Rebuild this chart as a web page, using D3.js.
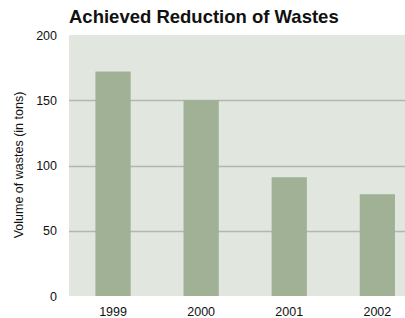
<!DOCTYPE html>
<html>
<head>
<meta charset="utf-8">
<script src="https://cdn.jsdelivr.net/npm/d3@7"></script>
<style>
  body { margin: 0; background: #fff; }
  text { font-family: "Liberation Sans", Arial, sans-serif; }
</style>
</head>
<body>
<div id="chart"></div>
<script>
var years = ["1999", "2000", "2001", "2002"];
var wastes = [172, 150, 91, 78];
var yTicks = [0, 50, 100, 150, 200];

var width = 405, height = 318;
var margin = { top: 35, left: 69, bottom: 22 };
var plotBottom = height - margin.bottom;

var svg = d3.select("#chart").append("svg")
  .attr("width", width)
  .attr("height", height);

var x = d3.scaleBand()
  .domain(years)
  .range([margin.left, margin.left + 4 * 88.1])
  .paddingInner(0.6)
  .paddingOuter(0.3);

var y = d3.scaleLinear()
  .domain([0, 200])
  .range([plotBottom, margin.top]);

// background
svg.append("rect")
  .attr("x", margin.left)
  .attr("y", margin.top)
  .attr("width", width - margin.left)
  .attr("height", plotBottom - margin.top)
  .attr("fill", "#e1e6df");

// gridlines
svg.append("g").selectAll("line")
  .data(yTicks.filter(function (d) { return d > 0 && d < 200; }))
  .enter().append("line")
  .attr("x1", margin.left)
  .attr("x2", width)
  .attr("y1", function (d) { return Math.round(y(d)) + 0.5; })
  .attr("y2", function (d) { return Math.round(y(d)) + 0.5; })
  .attr("stroke", "#b2b7b1")
  .attr("stroke-width", 1.5);

// bars
svg.append("g").selectAll("rect")
  .data(years)
  .enter().append("rect")
  .attr("x", function (d) { return x(d); })
  .attr("y", function (d, i) { return y(wastes[i]); })
  .attr("width", x.bandwidth())
  .attr("height", function (d, i) { return plotBottom - y(wastes[i]); })
  .attr("fill", "#a0b196");

// y axis labels
var yAxis = d3.axisLeft(y).tickValues(yTicks).tickSize(0).tickPadding(12);
var gy = svg.append("g")
  .attr("transform", "translate(" + margin.left + ",0)")
  .call(yAxis);
gy.select(".domain").remove();
gy.selectAll("text")
  .style("font-size", "12.5px")
  .attr("fill", "#111")
  .attr("font-family", "Liberation Sans, Arial, sans-serif");

// x axis labels
var xAxis = d3.axisBottom(x).tickSize(0).tickPadding(11);
var gx = svg.append("g")
  .attr("transform", "translate(0," + plotBottom + ")")
  .call(xAxis);
gx.select(".domain").remove();
gx.selectAll("text")
  .style("font-size", "12.5px")
  .attr("fill", "#111")
  .attr("font-family", "Liberation Sans, Arial, sans-serif");

// y axis title
svg.append("text")
  .attr("transform", "translate(23," + 165 + ") rotate(-90)")
  .attr("text-anchor", "middle")
  .style("font-size", "12.5px")
  .attr("fill", "#111")
  .text("Volume of wastes (in tons)");

// title
svg.append("text")
  .attr("x", margin.left)
  .attr("y", 23)
  .style("font-size", "18.5px")
  .style("font-weight", "bold")
  .attr("fill", "#111")
  .text("Achieved Reduction of Wastes");
</script>
</body>
</html>
